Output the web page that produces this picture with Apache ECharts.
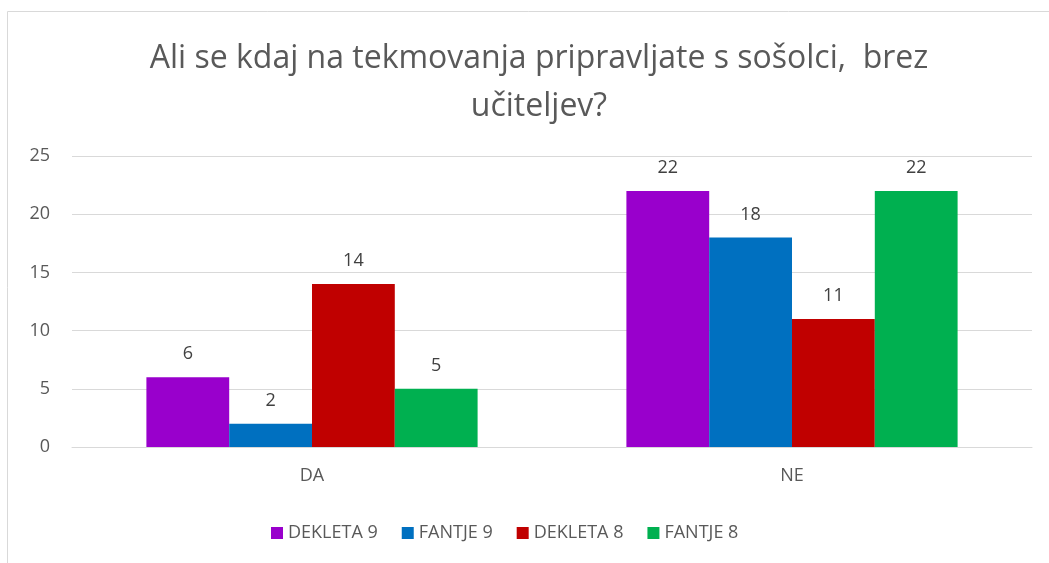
<!DOCTYPE html>
<html>
<head>
<meta charset="utf-8">
<script src="https://cdn.jsdelivr.net/npm/echarts@6/dist/echarts.min.js"></script>
<style>
  html, body { margin: 0; padding: 0; background: #fff; }
  #chart { width: 1049px; height: 563px; }
</style>
</head>
<body>
<div id="chart"></div>
<script>
// podatki
const categories = ["DA", "NE"];
const seriesNames = ["DEKLETA 9", "FANTJE 9", "DEKLETA 8", "FANTJE 8"];
const dekleta9 = [6, 22];
const fantje9 = [2, 18];
const dekleta8 = [14, 11];
const fantje8 = [5, 22];
const yTicks = [0, 5, 10, 15, 20, 25];

const colors = ["#9900CC", "#0070C0", "#C00000", "#00B050"];
const values = [dekleta9, fantje9, dekleta8, fantje8];
const font = "'Open Sans', 'Noto Sans', sans-serif";

const myChart = echarts.init(document.getElementById("chart"));

const option = {
  color: colors,
  textStyle: { fontFamily: font },
  title: {
    text: "Ali se kdaj na tekmovanja pripravljate s sošolci,  brez\nučiteljev?",
    left: 534,
    top: 30,
    textAlign: "center",
    textStyle: {
      color: "#595959",
      fontSize: 32,
      fontWeight: "normal",
      fontFamily: font,
      lineHeight: 48,
    },
  },
  legend: {
    bottom: 16,
    left: 266,
    itemWidth: 12,
    itemHeight: 12,
    itemGap: 24,
    icon: "rect",
    data: seriesNames,
    textStyle: { color: "#595959", fontSize: 18, fontFamily: font },
  },
  grid: {
    left: 72,
    right: 17,
    top: 156,
    bottom: 116,
  },
  xAxis: {
    type: "category",
    data: categories,
    axisTick: { show: false },
    axisLine: { lineStyle: { color: "#d9d9d9" } },
    axisLabel: { color: "#595959", fontSize: 18, margin: 20 },
  },
  yAxis: {
    type: "value",
    min: yTicks[0],
    max: yTicks[yTicks.length - 1],
    interval: 5,
    axisLine: { show: false },
    axisTick: { show: false },
    splitLine: { lineStyle: { color: "#d9d9d9" } },
    axisLabel: { color: "#595959", fontSize: 18, margin: 22 },
  },
  series: seriesNames.map((name, i) => ({
    name: name,
    type: "bar",
    data: values[i],
    barGap: "0%",
    barCategoryGap: "31%",
    label: {
      show: true,
      position: "top",
      distance: 14,
      color: "#404040",
      fontSize: 18,
    },
  })),
  graphic: [
    {
      type: "polyline",
      shape: { points: [[7.5, 563], [7.5, 11.5], [1049, 11.5]] },
      style: { stroke: "#d9d9d9", fill: null, lineWidth: 1 },
      silent: true,
    },
  ],
};

myChart.setOption(option);
window.addEventListener("resize", () => myChart.resize());
</script>
</body>
</html>
